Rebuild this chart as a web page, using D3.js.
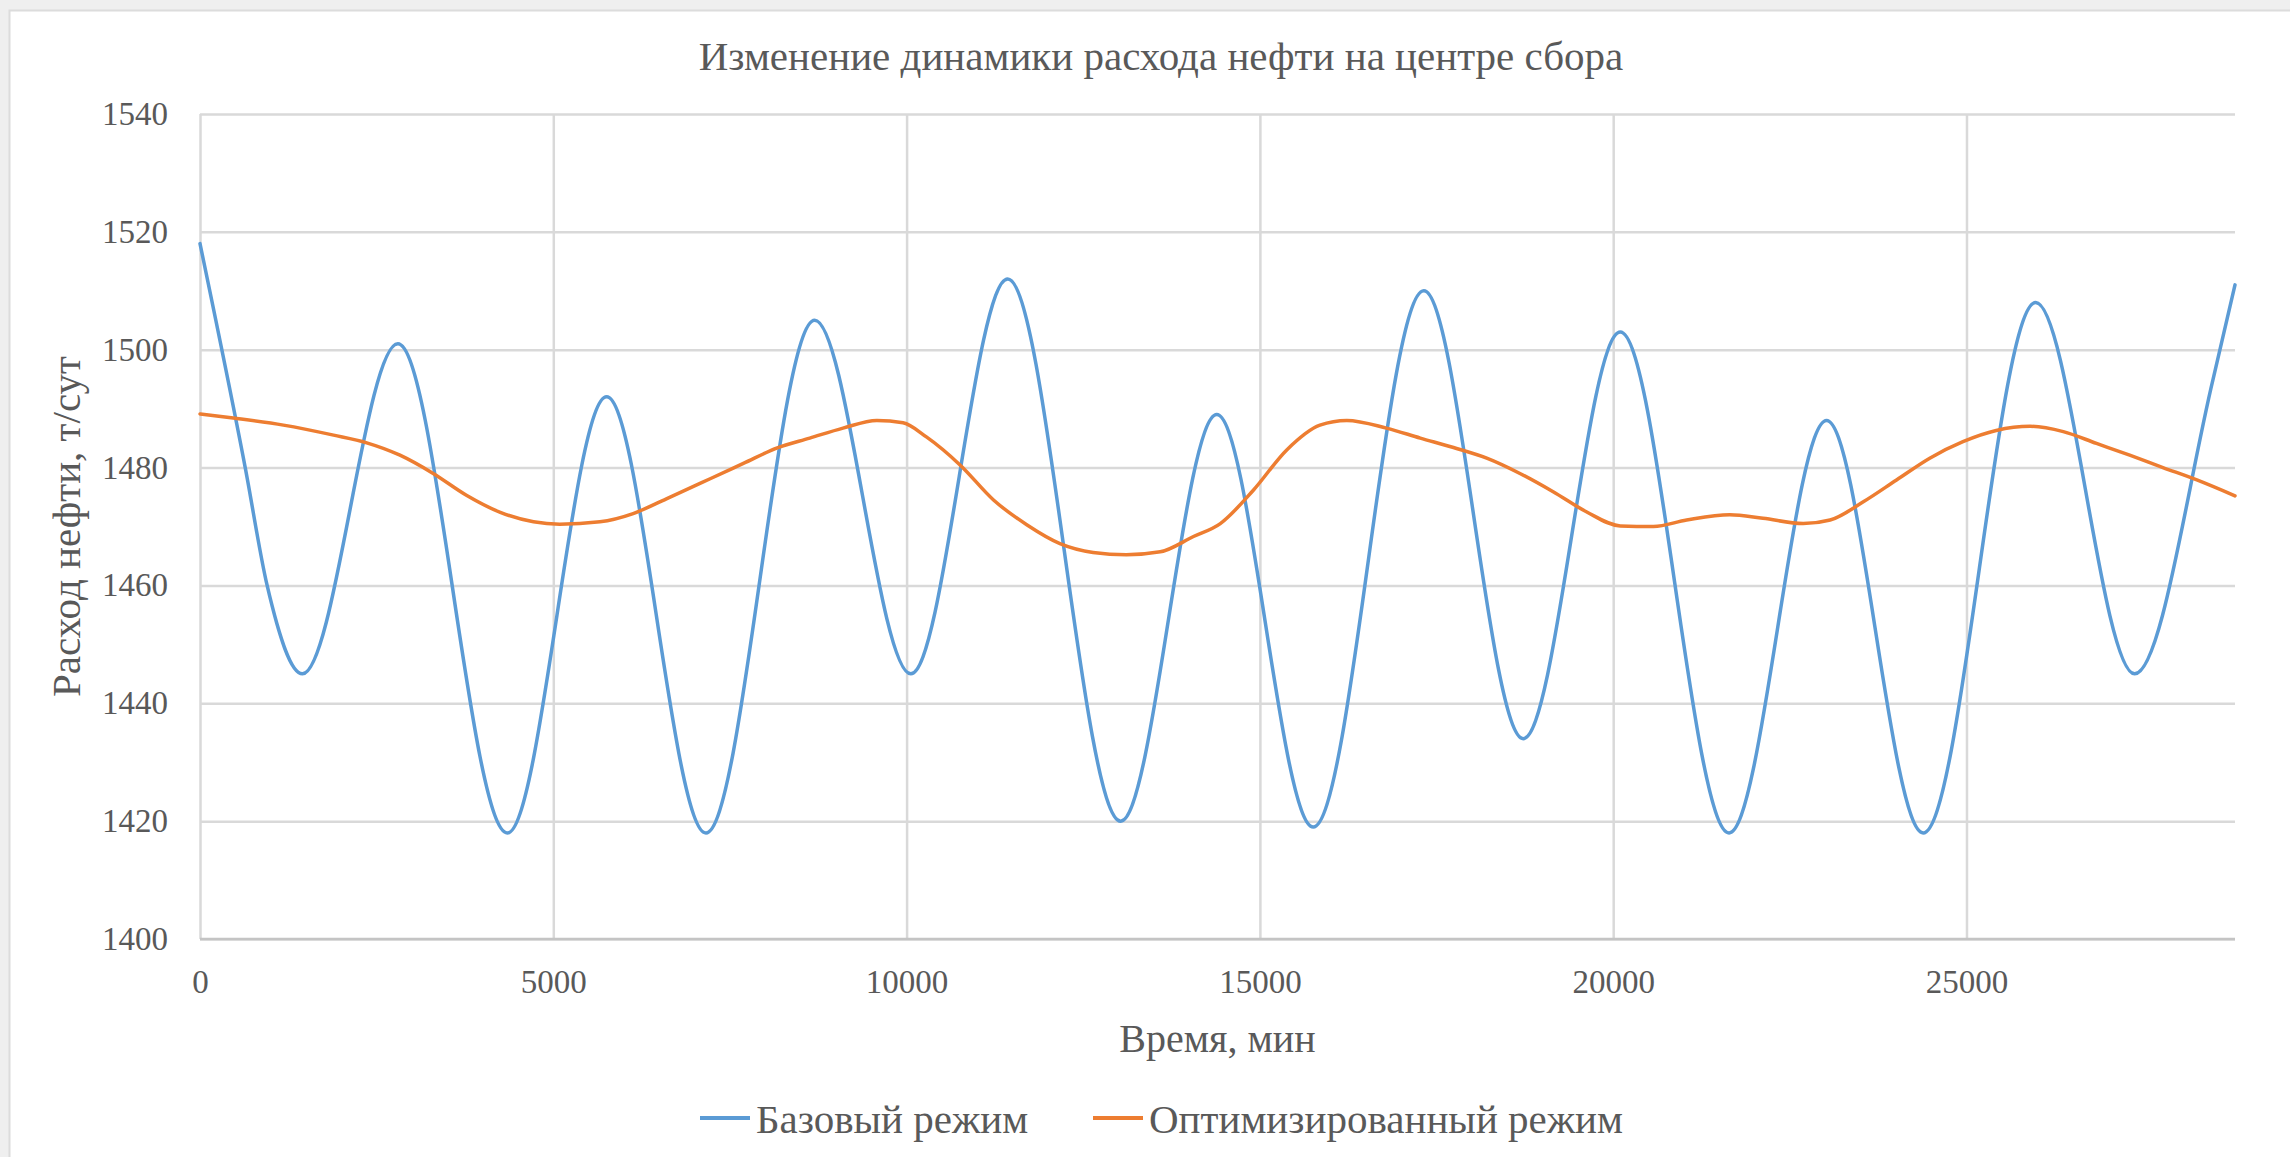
<!DOCTYPE html>
<html>
<head>
<meta charset="utf-8">
<script src="https://cdn.jsdelivr.net/npm/d3@7"></script>
<style>
  html, body { margin: 0; padding: 0; background: #efefef; }
  svg { display: block; }
  text { font-family: "Liberation Serif", "Times New Roman", serif; fill: #595959; }
</style>
</head>
<body>
<svg id="chart" width="2290" height="1157"></svg>
<script>
// Time, minutes, and oil flow, t/day — base operating mode
const timeBase = [0, 640, 950, 1450, 2800, 4350, 5755, 7160, 8700, 10060, 11430, 13030,
  14390, 15755, 17320, 18727, 20100, 21640, 23020, 24387, 25980, 27380, 28490, 28800];
const flowBase = [1518, 1480, 1460, 1445, 1501, 1418, 1492, 1418, 1505, 1445, 1512, 1420,
  1489, 1419, 1510, 1434, 1503, 1418, 1488, 1418, 1508, 1445, 1495, 1511];

// Optimized operating mode
const timeOpt = [0, 470, 1180, 1890, 2360, 2830, 3300, 3770, 4250, 4720, 5090, 5660, 6130,
  6600, 7220, 7690, 8160, 8630, 9100, 9580, 9950, 10280, 10760, 11230, 11700, 12170, 12640,
  13110, 13590, 14060, 14440, 14910, 15380, 15850, 16230, 16790, 17270, 17740, 18210, 18680,
  19150, 19620, 20100, 20570, 21040, 21650, 22120, 22690, 23070, 23540, 24010, 24480, 24950,
  25420, 25900, 26370, 26840, 27310, 27780, 28260, 28800];
const flowOpt = [1489.1, 1488.4, 1487.2, 1485.5, 1484.2, 1482.1, 1479.0, 1475.3, 1472.4,
  1470.8, 1470.4, 1470.8, 1472.2, 1474.7, 1478.1, 1480.7, 1483.3, 1485.0, 1486.7, 1488.0,
  1487.6, 1485.2, 1480.4, 1474.5, 1470.3, 1467.1, 1465.6, 1465.2, 1465.7, 1468.3, 1470.5,
  1476.2, 1483.0, 1487.2, 1488.0, 1486.7, 1485.0, 1483.4, 1481.6, 1479.0, 1475.9, 1472.5,
  1470.1, 1470.0, 1471.1, 1472.0, 1471.4, 1470.5, 1471.1, 1474.2, 1477.9, 1481.6, 1484.4,
  1486.3, 1487.0, 1486.1, 1484.1, 1482.1, 1480.0, 1477.9, 1475.2];

const xTicks = [0, 5000, 10000, 15000, 20000, 25000];
const yTicks = [1400, 1420, 1440, 1460, 1480, 1500, 1520, 1540];
const seriesNames = ["Базовый режим", "Оптимизированный режим"];
const seriesColors = ["#5b9bd5", "#ed7d31"];
const titleText = "Изменение динамики расхода нефти на центре сбора";
const xTitle = "Время, мин";
const yTitle = "Расход нефти, т/сут";

const svg = d3.select("#chart");
const W = 2290, H = 1157;
const plot = { left: 200, right: 2235, top: 114, bottom: 939 };

// card background
svg.append("rect").attr("x", 0).attr("y", 0).attr("width", W).attr("height", H).attr("fill", "#efefef");
svg.append("rect").attr("x", 9.5).attr("y", 10.5).attr("width", W).attr("height", H)
  .attr("fill", "#ffffff").attr("stroke", "#dcdcdc").attr("stroke-width", 2);

const x = d3.scaleLinear().domain([0, 28800]).range([plot.left, plot.right]);
const y = d3.scaleLinear().domain([1400, 1540]).range([plot.bottom, plot.top]);

// horizontal gridlines + y labels
const yAxis = svg.append("g").attr("transform", `translate(${plot.left},0)`)
  .call(d3.axisLeft(y).tickValues(yTicks).tickSize(-(plot.right - plot.left)).tickPadding(32).tickFormat(d3.format("d")));
yAxis.select(".domain").remove();
yAxis.selectAll("line").attr("stroke", "#d9d9d9").attr("stroke-width", 2.5);
yAxis.selectAll("text").attr("font-size", 33).style("fill", "#595959")
  .attr("font-family", "Liberation Serif, serif");

// vertical gridlines + x labels
const xAxis = svg.append("g").attr("transform", `translate(0,${plot.bottom})`)
  .call(d3.axisBottom(x).tickValues(xTicks).tickSize(-(plot.bottom - plot.top)).tickPadding(31).tickFormat(d3.format("d")));
xAxis.select(".domain").remove();
xAxis.selectAll("line").attr("stroke", "#d9d9d9").attr("stroke-width", 2.5);
xAxis.selectAll("text").attr("font-size", 33).style("fill", "#595959")
  .attr("font-family", "Liberation Serif, serif");

// bottom axis line
svg.append("line").attr("x1", plot.left).attr("x2", plot.right)
  .attr("y1", y(1400)).attr("y2", y(1400)).attr("stroke", "#c4c4c4").attr("stroke-width", 2.5);

const line = d3.line().x(d => x(d[0])).y(d => y(d[1])).curve(d3.curveMonotoneX);
const series = [
  d3.zip(timeBase, flowBase),
  d3.zip(timeOpt, flowOpt)
];
series.forEach((s, i) => {
  svg.append("path").datum(s).attr("d", line)
    .attr("fill", "none").attr("stroke", seriesColors[i]).attr("stroke-width", 3.5)
    .attr("stroke-linejoin", "round").attr("stroke-linecap", "round");
});

// titles
svg.append("text").attr("x", 1161).attr("y", 70).attr("text-anchor", "middle")
  .attr("font-size", 41).text(titleText);
svg.append("text").attr("x", (plot.left + plot.right) / 2).attr("y", 1052).attr("text-anchor", "middle")
  .attr("font-size", 40).text(xTitle);
svg.append("text").attr("transform", `translate(80,${(plot.top + plot.bottom) / 2}) rotate(-90)`)
  .attr("text-anchor", "middle").attr("font-size", 41).text(yTitle);

// legend
const legendX = [700, 1093];
seriesNames.forEach((name, i) => {
  const g = svg.append("g").attr("transform", `translate(${legendX[i]},1118)`);
  g.append("line").attr("x1", 0).attr("x2", 50).attr("y1", 0).attr("y2", 0)
    .attr("stroke", seriesColors[i]).attr("stroke-width", 4);
  g.append("text").attr("x", 56).attr("y", 15).attr("font-size", 41).text(name);
});
</script>
</body>
</html>
